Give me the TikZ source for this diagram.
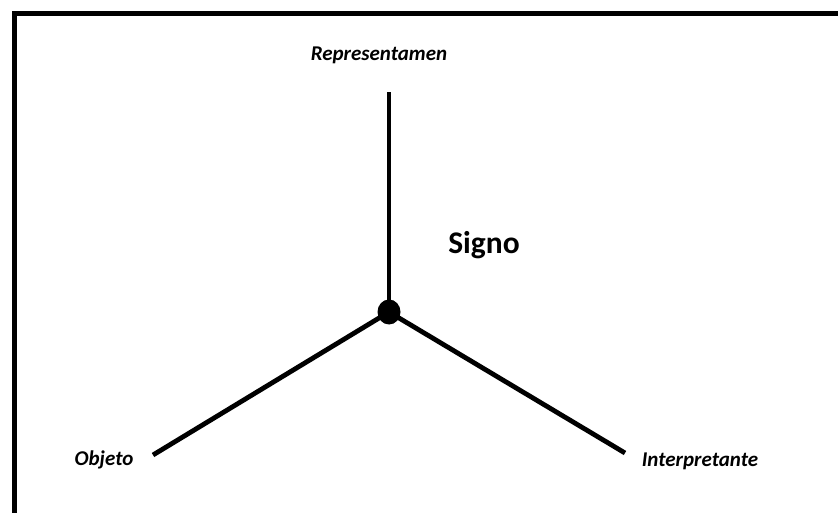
\documentclass[tikz,border=0pt]{standalone}
\usepackage{fontspec}
\setmainfont{Carlito}
\usepackage{tikz}
\usetikzlibrary{positioning, shapes.geometric}

\begin{document}
\begin{tikzpicture}[
  x=1pt, y=-1pt,
  % --- node styles ---
  vertex/.style={
    font=\fontsize{21}{23}\selectfont\bfseries\itshape,
    inner sep=0pt, anchor=center
  },
  title/.style={
    font=\fontsize{31.5}{33}\selectfont\bfseries,
    inner sep=0pt, anchor=center
  },
  hub/.style={
    ellipse, fill=black, inner sep=0pt,
    minimum width=23pt, minimum height=25pt
  },
  edge/.style={line width=4.8pt, black},
  frame/.style={line width=5pt, black, line join=miter},
]
\useasboundingbox (0,0) rectangle (838,513);

% Frame (top and left only)
\draw[frame] (14.5,513) -- (14.5,13.5) -- (838,13.5);

% Centre and line ends
\node[hub] (centre) at (389,312) {};
\coordinate (top) at (389,92);
\coordinate (left) at (153,455);
\coordinate (right) at (625,453);

% Labels
\node[vertex] (repr) at (379,55) {Representamen};
\node[title] (signo) at (484,245) {Signo};
\node[vertex] (objeto) at (104,460) {Objeto};
\node[vertex] (interp) at (700,461) {Interpretante};

% ─── Branches ────────────────────────────────────────────────────────────
\draw[edge] (centre.center) -- (top);
\draw[edge] (centre.center) -- (left);
\draw[edge] (centre.center) -- (right);

\end{tikzpicture}
\end{document}
